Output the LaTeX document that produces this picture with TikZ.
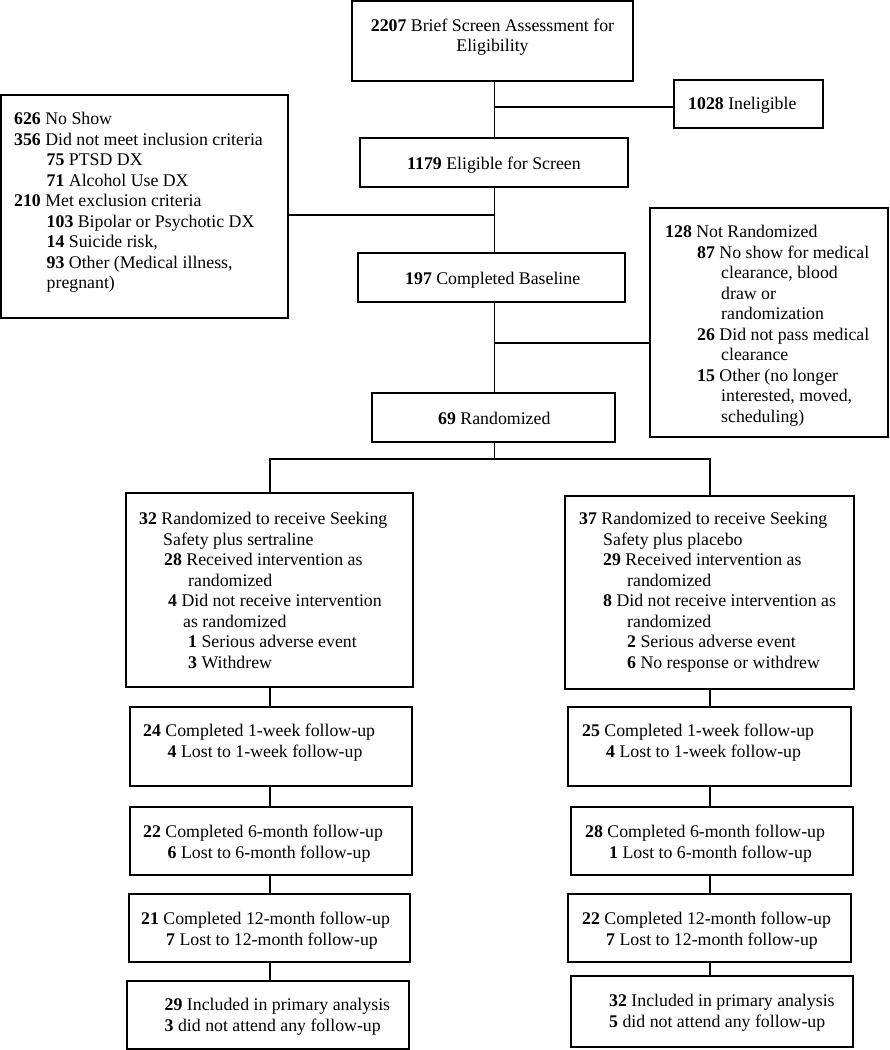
\documentclass[tikz,border=0pt]{standalone}
\usepackage{fontspec}
\setmainfont{Liberation Serif}
\usetikzlibrary{fit}
\tikzset{
  box/.style={draw, line width=1.3pt, inner sep=0pt},
  txt/.style={inner sep=0pt, anchor=base west, font=\fontsize{17.8}{20.5}\selectfont},
  ctxt/.style={inner sep=0pt, anchor=base, font=\fontsize{17.8}{20.5}\selectfont},
  link/.style={line width=1.3pt},
}
\newcommand{\ind}[1]{\hspace*{#1pt}}
\begin{document}
\begin{tikzpicture}[x=1pt,y=-1pt]
\useasboundingbox (0,0) rectangle (890,1050);
% boxes
\node[box, fit={(352,1) (633,81)}] (top) {};
\node[box, fit={(674,80) (823,128)}] (inel) {};
\node[box, fit={(1,95) (288,318)}] (excl) {};
\node[box, fit={(360,138) (628,187)}] (elig) {};
\node[box, fit={(358,253) (625,302)}] (base) {};
\node[box, fit={(650,208) (888,437)}] (notr) {};
\node[box, fit={(372,393) (615,442)}] (rand) {};
\node[box, fit={(126,493) (413,687)}] (armL) {};
\node[box, fit={(565,496) (854,689)}] (armR) {};
\node[box, fit={(130,707) (412,786)}] (L1) {};
\node[box, fit={(130,807) (412,875)}] (L2) {};
\node[box, fit={(129,894) (410,962)}] (L3) {};
\node[box, fit={(127,981) (409,1049)}] (L4) {};
\node[box, fit={(568,707) (851,786)}] (R1) {};
\node[box, fit={(571,807) (853,875)}] (R2) {};
\node[box, fit={(568,894) (851,962)}] (R3) {};
\node[box, fit={(571,976) (853,1047)}] (R4) {};
% texts
\node[ctxt] (ttop) at (492.5,31) {\begin{tabular}[t]{@{}c@{}}\textbf{2207} Brief Screen Assessment for\\ Eligibility\end{tabular}};
\node[txt] (tinel) at (688,109.5) {\textbf{1028} Ineligible};
\node[txt] (telig) at (407,169.5) {\textbf{1179} Eligible for Screen};
\node[txt] (tbase) at (405,284.5) {\textbf{197} Completed Baseline};
\node[txt] (trand) at (438,424.5) {\textbf{69} Randomized};
\node[txt] (texcl) at (14,124.5) {\begin{tabular}[t]{@{}l@{}}
\textbf{626} No Show\\
\textbf{356} Did not meet inclusion criteria\\
\ind{32.5}\textbf{75} PTSD DX\\
\ind{32.5}\textbf{71} Alcohol Use DX\\
\textbf{210} Met exclusion criteria\\
\ind{32.5}\textbf{103} Bipolar or Psychotic DX\\
\ind{32.5}\textbf{14} Suicide risk,\\
\ind{32.5}\textbf{93} Other (Medical illness,\\
\ind{32.5}pregnant)
\end{tabular}};
\node[txt] (tnotr) at (665,237.5) {\begin{tabular}[t]{@{}l@{}}
\textbf{128} Not Randomized\\
\ind{32}\textbf{87} No show for medical\\
\ind{56}clearance, blood\\
\ind{56}draw or\\
\ind{56}randomization\\
\ind{32}\textbf{26} Did not pass medical\\
\ind{56}clearance\\
\ind{32}\textbf{15} Other (no longer\\
\ind{56}interested, moved,\\
\ind{56}scheduling)
\end{tabular}};
\node[txt] (tarmL) at (139,524.5) {\begin{tabular}[t]{@{}l@{}}
\textbf{32} Randomized to receive Seeking\\
\ind{24}Safety plus sertraline\\
\ind{25}\textbf{28} Received intervention as\\
\ind{49}randomized\\
\ind{29}\textbf{4} Did not receive intervention\\
\ind{44}as randomized\\
\ind{49}\textbf{1} Serious adverse event\\
\ind{49}\textbf{3} Withdrew
\end{tabular}};
\node[txt] (tarmR) at (579,524.5) {\begin{tabular}[t]{@{}l@{}}
\textbf{37} Randomized to receive Seeking\\
\ind{24}Safety plus placebo\\
\ind{24}\textbf{29} Received intervention as\\
\ind{48}randomized\\
\ind{24}\textbf{8} Did not receive intervention as\\
\ind{48}randomized\\
\ind{48}\textbf{2} Serious adverse event\\
\ind{48}\textbf{6} No response or withdrew
\end{tabular}};
\node[txt] (tL1) at (143,736.5) {\begin{tabular}[t]{@{}l@{}}
\textbf{24} Completed 1-week follow-up\\
\ind{24.5}\textbf{4} Lost to 1-week follow-up
\end{tabular}};
\node[txt] (tL2) at (143,837.5) {\begin{tabular}[t]{@{}l@{}}
\textbf{22} Completed 6-month follow-up\\
\ind{24.5}\textbf{6} Lost to 6-month follow-up
\end{tabular}};
\node[txt] (tL3) at (141,924.5) {\begin{tabular}[t]{@{}l@{}}
\textbf{21} Completed 12-month follow-up\\
\ind{25}\textbf{7} Lost to 12-month follow-up
\end{tabular}};
\node[txt] (tL4) at (164.5,1010.5) {\begin{tabular}[t]{@{}l@{}}
\textbf{29} Included in primary analysis\\
\textbf{3} did not attend any follow-up
\end{tabular}};
\node[txt] (tR1) at (582,736.5) {\begin{tabular}[t]{@{}l@{}}
\textbf{25} Completed 1-week follow-up\\
\ind{24}\textbf{4} Lost to 1-week follow-up
\end{tabular}};
\node[txt] (tR2) at (585,837.5) {\begin{tabular}[t]{@{}l@{}}
\textbf{28} Completed 6-month follow-up\\
\ind{24}\textbf{1} Lost to 6-month follow-up
\end{tabular}};
\node[txt] (tR3) at (582,924.5) {\begin{tabular}[t]{@{}l@{}}
\textbf{22} Completed 12-month follow-up\\
\ind{24}\textbf{7} Lost to 12-month follow-up
\end{tabular}};
\node[txt] (tR4) at (609,1006.5) {\begin{tabular}[t]{@{}l@{}}
\textbf{32} Included in primary analysis\\
\textbf{5} did not attend any follow-up
\end{tabular}};
% connectors
\coordinate (mx) at (494.5,0);
\coordinate (lx) at (270,0);
\coordinate (rx) at (710,0);
\coordinate (jIn) at (494.5,107);
\coordinate (jEx) at (494.5,215);
\coordinate (jNr) at (494.5,343);
\coordinate (split) at (494.5,459);
\draw[link] (top.south -| mx) -- (elig.north -| mx);
\draw[link] (elig.south -| mx) -- (base.north -| mx);
\draw[link] (base.south -| mx) -- (rand.north -| mx);
\draw[link] (rand.south -| mx) -- (split);
\draw[link] (jIn) -- (inel.west |- jIn);
\draw[link] (excl.east |- jEx) -- (jEx);
\draw[link] (jNr) -- (notr.west |- jNr);
\draw[link] (armL.north -| lx) |- (split) -| (armR.north -| rx);
\draw[link] (armL.south -| lx) -- (L1.north -| lx);
\draw[link] (L1.south -| lx) -- (L2.north -| lx);
\draw[link] (L2.south -| lx) -- (L3.north -| lx);
\draw[link] (L3.south -| lx) -- (L4.north -| lx);
\draw[link] (armR.south -| rx) -- (R1.north -| rx);
\draw[link] (R1.south -| rx) -- (R2.north -| rx);
\draw[link] (R2.south -| rx) -- (R3.north -| rx);
\draw[link] (R3.south -| rx) -- (R4.north -| rx);
\end{tikzpicture}
\end{document}
